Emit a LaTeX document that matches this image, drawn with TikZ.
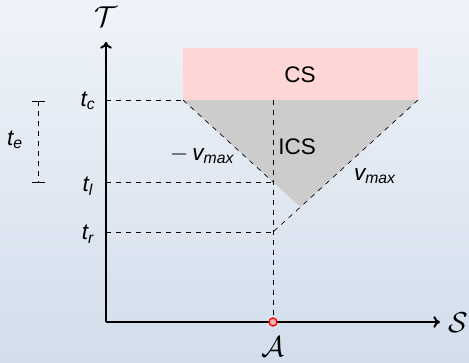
\documentclass[tikz,border=0pt]{standalone}
\usepackage{amsmath}
\usepackage{fontspec}
\setmainfont{Liberation Sans}
\usetikzlibrary{arrows.meta}

\newcommand{\sv}[2]{\textit{#1}_{\textit{#2}}}

\begin{document}
\fontsize{13.5pt}{16pt}\selectfont
\begin{tikzpicture}[x=0.6pt,y=-0.6pt,line join=bevel]
    \useasboundingbox (0,0) rectangle (469,362);
    \coordinate (O) at (106,322);
    \coordinate (ytop) at (106,42);
    \coordinate (xend) at (440,322);
    \coordinate (tc) at (106,100);
    \coordinate (tl) at (106,182);
    \coordinate (tr) at (106,232);
    \coordinate (cl) at (183,100);
    \coordinate (cr) at (418,100);
    \coordinate (pl) at (273,182);
    \coordinate (pr) at (273,232);
    \coordinate (pc) at (273,100);
    \coordinate (apex) at (300.5,207);
    \coordinate (ebt) at (38,101);
    \coordinate (ebb) at (38,182);

%   background
    \shade[top color={rgb,255:red,239;green,243;blue,249},bottom color={rgb,255:red,210;green,222;blue,236}]
        (0,0) rectangle (469,362);

    \fill[red!16] (183,48) rectangle (cr);
    \fill[black!20] (cl) -- (cr) -- (apex) -- cycle;

    \draw[dashed] (tc) -- (cl);
    \draw[dashed] (tl) -- (pl);
    \draw[dashed] (tr) -- (pr);
    \draw[dashed] (cl) -- (pl);
    \draw[dashed] (cr) -- (pr);
    \draw[dashed] (pc) -- (273,322);

    \draw[dashed] (ebt) -- (ebb);
    \draw (32,101) -- (45,101);
    \draw (32,182) -- (45,182);

    \draw[line width=1.2pt,-{To[length=4pt,width=7pt]}] (O) -- (ytop);
    \draw[line width=1.2pt,-{To[length=4pt,width=7pt]}] (O) -- (xend);
    \draw[red,fill=red!30,thick] (273,322) circle (4);

    \node[scale=1.2,inner sep=1pt] (T) at (106,17) {$\mathcal{T}$};
    \node[scale=1.2,inner sep=1pt] (S) at (458,323) {$\mathcal{S}$};
    \node[scale=1.2,inner sep=1pt] (A) at (273,347) {$\mathcal{A}$};
    \node (ltc) at (88,101) {$\sv{t}{c}$};
    \node (ltl) at (88,186) {$\sv{t}{l}$};
    \node (ltr) at (88,234) {$\sv{t}{r}$};
    \node (lte) at (15,140) {$\sv{t}{e}$};
    \node (CS) at (300,75) {CS};
    \node (ICS) at (297,147) {ICS};
    \node (vneg) at (202,155) {$-\,\sv{v}{max}$};
    \node (vpos) at (375,176) {$\sv{v}{max}$};
\end{tikzpicture}
\end{document}
